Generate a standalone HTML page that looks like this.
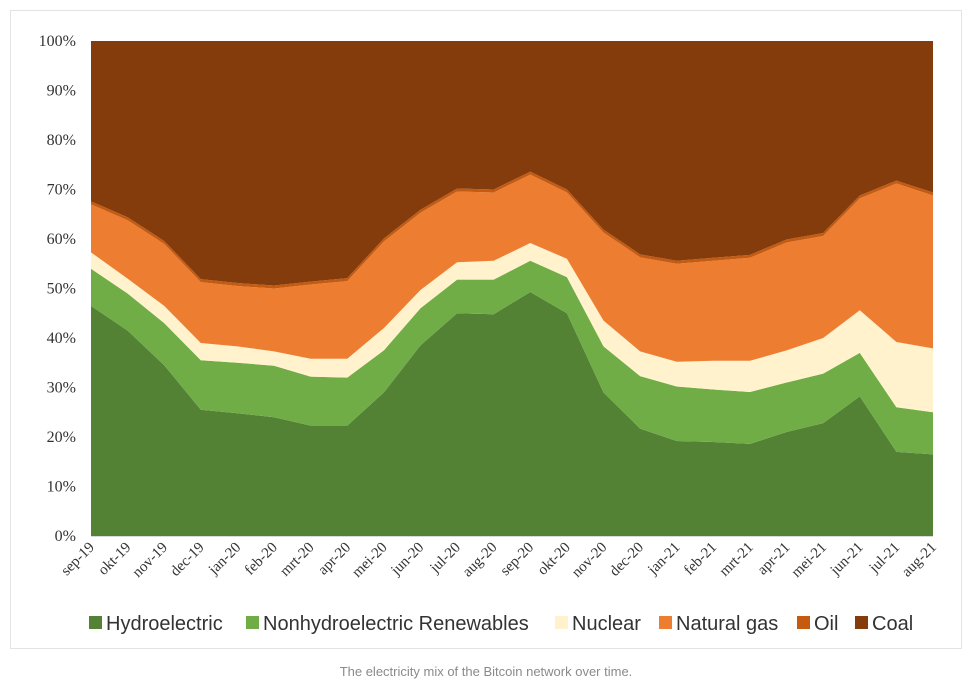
<!DOCTYPE html>
<html><head><meta charset="utf-8"><style>
body{margin:0;background:#fff;width:972px;height:692px;overflow:hidden;font-family:"Liberation Sans",sans-serif}
</style></head><body>
<svg width="972" height="692">
<rect x="10.5" y="10.5" width="951" height="638" fill="none" stroke="#e3e3e3"/>
<g id="areas"></g><g id="yax"></g><g id="xax"></g><g id="legend"></g>
<text x="486" y="676" text-anchor="middle" font-size="13" fill="#8a8a8a">The electricity mix of the Bitcoin network over time.</text>
</svg>
<script>
const categories=["sep-19","okt-19","nov-19","dec-19","jan-20","feb-20","mrt-20","apr-20","mei-20","jun-20","jul-20","aug-20","sep-20","okt-20","nov-20","dec-20","jan-21","feb-21","mrt-21","apr-21","mei-21","jun-21","jul-21","aug-21"];
const hydro=[46.5,41.5,34.5,25.5,24.8,24,22.3,22.3,29,38.5,45,44.8,49.3,45,29,21.7,19.2,19,18.6,21,22.8,28.2,17,16.5];
const renew=[7.5,7.5,8.5,10,10.2,10.4,9.9,9.7,8.5,7.5,6.8,7,6.3,7.3,9.3,10.6,11,10.6,10.5,10,10,8.8,9,8.5];
const nuclear=[3.3,3,3.5,3.5,3.3,2.9,3.6,3.8,4.5,3.7,3.5,3.8,3.6,3.7,5.2,5,5,5.8,6.3,6.5,7.2,8.6,13.2,12.9];
const gas=[9.7,11.8,12.5,12.3,12.2,12.7,15,15.7,17.5,15.6,14.3,13.8,13.8,13.4,17.8,19,19.8,20.2,20.8,21.8,20.6,22.6,32,30.9];
const oil=[0.6,0.6,0.6,0.6,0.6,0.6,0.6,0.6,0.6,0.6,0.6,0.6,0.6,0.6,0.6,0.6,0.6,0.6,0.6,0.6,0.6,0.6,0.6,0.6];
const coal=hydro.map((h,i)=>100-h-renew[i]-nuclear[i]-gas[i]-oil[i]);
const seriesNames=["Hydroelectric","Nonhydroelectric Renewables","Nuclear","Natural gas","Oil","Coal"];
const yTicks=[0,10,20,30,40,50,60,70,80,90,100];
const NS="http://www.w3.org/2000/svg";
const colors=["#548235","#70ad47","#fff2cc","#ed7d31","#c55a11","#843c0c"];
const series=[hydro,renew,nuclear,gas,oil,coal];
const X0=91,X1=933,Y0=536,Y1=41;
const x=i=>X0+(X1-X0)*i/(categories.length-1);
const y=v=>Y0-(Y0-Y1)*v/100;
function mk(t,a,p){const e=document.createElementNS(NS,t);for(const k in a)e.setAttribute(k,a[k]);p.appendChild(e);return e;}
const areas=document.getElementById('areas');
let base=categories.map(()=>0);
series.forEach((s,si)=>{
  const top=base.map((b,i)=>b+s[i]);
  let d="M"+top.map((v,i)=>x(i)+","+y(v)).join(" L");
  for(let i=categories.length-1;i>=0;i--)d+=" L"+x(i)+","+y(base[i]);
  const p=mk('path',{d:d+"Z",fill:colors[si]},areas);
  
  
  base=top;
});
const yax=document.getElementById('yax');
yTicks.forEach(t=>{
  const e=mk('text',{x:76,y:y(t)+5,'text-anchor':'end','font-size':16,'font-family':'Liberation Serif, serif',fill:'#333'},yax);
  e.textContent=t+"%";
  
  
});
const xax=document.getElementById('xax');
mk('line',{x1:X0,x2:X1,y1:Y0+.5,y2:Y0+.5,stroke:'#d9d9d9'},xax);
categories.forEach((c,i)=>{
  const e=mk('text',{x:x(i)+4,y:Y0+12,'text-anchor':'end','font-size':15,'font-family':'Liberation Serif, serif',fill:'#333',transform:`rotate(-45 ${x(i)+4} ${Y0+12})`},xax);
  e.textContent=c;
  
  
});
const lg=document.getElementById('legend');
const lx=[89,246,555,659,797,855];
seriesNames.forEach((n,i)=>{
  const g=mk('g',{},lg);
  
  
  mk('rect',{x:lx[i],y:616,width:13,height:13,fill:colors[i]},g);
  const t=mk('text',{x:lx[i]+17,y:630,'font-size':20,fill:'#333'},g);
  t.textContent=n;
});
</script>
</body></html>
